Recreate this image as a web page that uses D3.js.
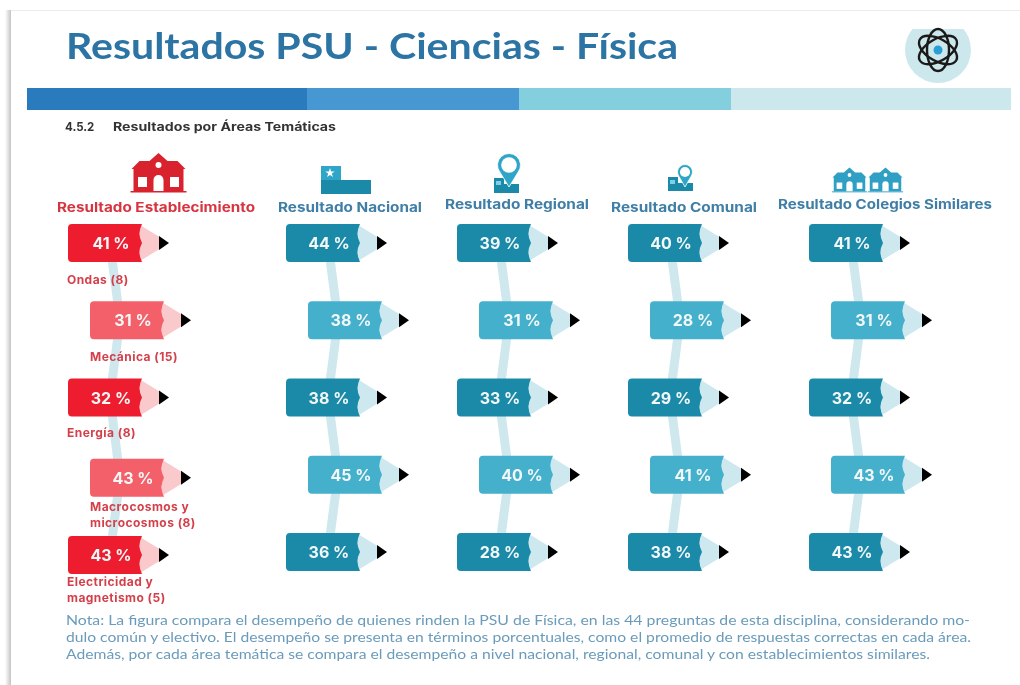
<!DOCTYPE html>
<html><head><meta charset="utf-8">
<script src="https://cdn.jsdelivr.net/npm/d3@7/dist/d3.min.js"></script>
<style>
html,body{margin:0;padding:0;background:#fff;overflow:hidden}
svg{display:block;filter:blur(.4px)}
text{font-family:Lato,"Open Sans",sans-serif}
.w{font-family:Inter,"Open Sans",sans-serif}
</style></head><body>
<svg id="c" width="1020" height="685"></svg>
<script>
const titleText = "Resultados PSU - Ciencias - Física";
const subtitleNum = "4.5.2";
const subtitleText = "Resultados por Áreas Temáticas";
const groups = ["Resultado Establecimiento","Resultado Nacional","Resultado Regional","Resultado Comunal","Resultado Colegios Similares"];
const topics = [["Ondas (8)"],["Mecánica (15)"],["Energía (8)"],["Macrocosmos y","microcosmos (8)"],["Electricidad y","magnetismo (5)"]];
const valEst = [41,31,32,43,43];
const valNac = [44,38,38,45,36];
const valReg = [39,31,33,40,28];
const valCom = [40,28,29,41,38];
const valSim = [41,31,32,43,43];
const allVals = [valEst,valNac,valReg,valCom,valSim];
const noteLines = [
 "Nota: La figura compara el desempeño de quienes rinden la PSU de Física, en las 44 preguntas de esta disciplina, considerando mo-",
 "dulo común y electivo. El desempeño se presenta en términos porcentuales, como el promedio de respuestas correctas en cada área.",
 "Además, por cada área temática se compara el desempeño a nivel nacional, regional, comunal y con establecimientos similares."];
const bandColors = ["#2a7bbd","#4797d2","#83cfdd","#cde8ec"];

const svg = d3.select("#c");
const defs = svg.append("defs");
const sh = defs.append("linearGradient").attr("id","sh");
sh.append("stop").attr("offset",0).attr("stop-color","#fff");
sh.append("stop").attr("offset",1).attr("stop-color","#c4c4c4");
defs.append("clipPath").attr("id","ca").append("rect").attr("x",-40).attr("y",-21).attr("width",80).attr("height",60);

// page frame
svg.append("rect").attr("x",5).attr("y",10).attr("width",1015).attr("height",1).attr("fill","#ececec");
svg.append("rect").attr("x",5).attr("y",10).attr("width",6).attr("height",675).attr("fill","url(#sh)");

svg.append("text").text(titleText).attr("x",66).attr("y",59).attr("font-size",36.5).attr("font-weight",700).attr("fill","#2c74a4").attr("textLength",612).attr("lengthAdjust","spacingAndGlyphs");

// colour band
const bx = d3.scaleOrdinal().domain(d3.range(4)).range([27,307,519,731]);
const bw = d3.scaleOrdinal().domain(d3.range(4)).range([280,212,212,280]);
svg.append("g").selectAll("rect").data(bandColors).join("rect")
 .attr("x",(d,i)=>bx(i)).attr("width",(d,i)=>bw(i)).attr("y",88).attr("height",22).attr("fill",d=>d);

svg.append("text").attr("class","w").text(subtitleNum).attr("x",65).attr("y",131).attr("font-size",11.5).attr("font-weight",700).attr("fill","#333");
svg.append("text").attr("class","w").text(subtitleText).attr("x",113).attr("y",131).attr("font-size",11.5).attr("font-weight",700).attr("fill","#333").attr("textLength",223).attr("lengthAdjust","spacingAndGlyphs");

// atom icon
const atom = svg.append("g").attr("transform","translate(938,50)");
atom.append("circle").attr("r",33).attr("fill","#cde8ec").attr("clip-path","url(#ca)");
[30,90,150].forEach(a=>atom.append("ellipse").attr("rx",21).attr("ry",11).attr("fill","none").attr("stroke","#1a1a1a").attr("stroke-width",2.4).attr("transform",`rotate(${a})`));
atom.append("circle").attr("r",4.5).attr("fill","#2a9fd6");

// scales
const x = d3.scaleOrdinal().domain(d3.range(5)).range([68,286,457,628,809]);
const y = d3.scalePoint().domain(d3.range(5)).range([243,552]);
const stagger = 22, bwid = 74, bh = 38, tipL = 24;
const yOff = (c,r)=> c===0 ? (r>=3?3:0) : 0;
const bodyColor = (c,r)=> c===0 ? (r%2?"#f4606a":"#ed1c2e") : (r%2?"#45b0cc":"#1a8aa8");
const tipColor = c=> c===0 ? "#f9c9cc" : "#cde8ee";

// headers
const headX = d3.scaleOrdinal().domain(d3.range(5)).range([156,350,517,684,885]);
const headW = d3.scaleOrdinal().domain(d3.range(5)).range([198,144,144,146,214]);
const headY = [212,212,209,212,209];
svg.append("g").selectAll("text").data(groups).join("text").attr("class","w").text(d=>d)
 .attr("x",(d,i)=>headX(i)).attr("y",(d,i)=>headY[i]).attr("text-anchor","middle")
 .attr("font-size",13).attr("font-weight",700).attr("fill",(d,i)=>i===0?"#d8343f":"#3f7ea6")
 .attr("textLength",(d,i)=>headW(i)).attr("lengthAdjust","spacingAndGlyphs");

// connectors
const line = d3.line().x(d=>d[0]).y(d=>d[1]).curve(d3.curveLinear);
allVals.forEach((vals,c)=>{
  const pts = vals.map((v,r)=>[x(c)+(r%2?stagger+30:42), y(r)+yOff(c,r)]);
  svg.append("path").attr("d",line(pts)).attr("fill","none").attr("stroke","#cfe8ee").attr("stroke-width",9);
});

// pencils
allVals.forEach((vals,c)=>{
  const g = svg.append("g");
  vals.forEach((v,r)=>{
    const bx0 = x(c)+(r%2?stagger:0), cy = y(r)+yOff(c,r);
    const p = g.append("g").attr("transform",`translate(${bx0},${cy})`);
    p.append("path").attr("d",`M${bwid-2},${-bh/2+1}L${bwid+tipL},-2L${bwid+tipL},2L${bwid-2},${bh/2-1}Z`).attr("fill",tipColor(c));
    p.append("path").attr("d",`M${bwid+17},-7L${bwid+27},0L${bwid+17},7Z`).attr("fill","#000");
    p.append("path").attr("d",`M4,${-bh/2}H${bwid}Q${bwid-5},-9 ${bwid},0Q${bwid-5},9 ${bwid},${bh/2}H4Q0,${bh/2} 0,${bh/2-4}V${-bh/2+4}Q0,${-bh/2} 4,${-bh/2}Z`).attr("fill",bodyColor(c,r));
    p.append("text").attr("class","w").attr("x",bwid/2+6).attr("y",6).attr("text-anchor","middle").attr("font-size",16).attr("font-weight",700).attr("fill","#f2f7f8").text(v+" %");
  });
});

// topic labels
const labelY = [284,361,437,511,586];
topics.forEach((ls,r)=>{
  ls.forEach((t,i)=>svg.append("text").attr("class","w").text(t).attr("x",r%2?90:67).attr("y",labelY[r]+i*16).attr("font-size",12).attr("letter-spacing",0.45).attr("font-weight",700).attr("fill","#d4404a"));
});

// note
svg.append("g").selectAll("text").data(noteLines).join("text").text(d=>d)
 .attr("x",66).attr("y",(d,i)=>625+i*17).attr("font-size",13).attr("fill","#6a9bbb")
 .attr("textLength",(d,i)=>[904,905,864][i]).attr("lengthAdjust","spacingAndGlyphs");

// icons
function school(cx,base,w,fill){
  const s=w/54;
  const p=svg.append("g").attr("transform",`translate(${cx},${base}) scale(${s})`).attr("fill",fill);
  p.append("path").attr("d","M-27,-23L-19,-31L-9,-31L0,-39L9,-31L19,-31L27,-23Z");
  p.append("rect").attr("x",-25).attr("y",-24).attr("width",50).attr("height",23);
  p.append("rect").attr("x",-28).attr("y",-1).attr("width",56).attr("height",1.5);
  p.append("circle").attr("cy",-27).attr("r",3).attr("fill","#fff");
  p.append("path").attr("d","M-5,-1V-12A5,5 0 0 1 5,-12V-1Z").attr("fill","#fff");
  [-16,16].forEach(dx=>p.append("rect").attr("x",dx-4.5).attr("y",-15).attr("width",9).attr("height",10).attr("fill","#fff"));
}
school(158.5,192,54,"#d8232f");
const flag = svg.append("g").attr("fill","#1a8aa8");
flag.append("path").attr("d","M321,180H371V194H321Z");
flag.append("path").attr("d","M321,166H341V180H321Z").attr("fill","#2fa6c8");
flag.append("path").attr("d",d3.symbol(d3.symbolStar,28)()).attr("transform","translate(330,173)").attr("fill","#fff");
function pin(cx,headR,headCy,tipY,bx0,baseTop,baseBot){
  const g=svg.append("g");
  g.append("path").attr("d",`M${bx0},${baseTop}H${bx0+10}V${baseTop+6}H${bx0+25}V${baseBot}H${bx0}Z`).attr("fill","#1a8aa8");
  g.append("rect").attr("x",bx0+2).attr("y",baseTop+3).attr("width",5).attr("height",4).attr("fill","#7fd0e4");
  const k=headR*0.8, h=headCy+headR*0.6;
  g.append("path").attr("d",`M${cx},${tipY}L${cx-k},${h}A${headR},${headR} 0 1 1 ${cx+k},${h}Z`).attr("fill","#2fa6c8").attr("stroke","#fff").attr("stroke-width",0.8);
  g.append("circle").attr("cx",cx).attr("cy",headCy).attr("r",headR*0.68).attr("fill","#fff");
}
pin(509,11.5,165,187,494,178,193);
pin(685,7.5,172,187,668,177,191);
school(849.5,192,34,"#2fa0c4");
school(885.5,192,34,"#2fa0c4");
</script>
</body></html>
